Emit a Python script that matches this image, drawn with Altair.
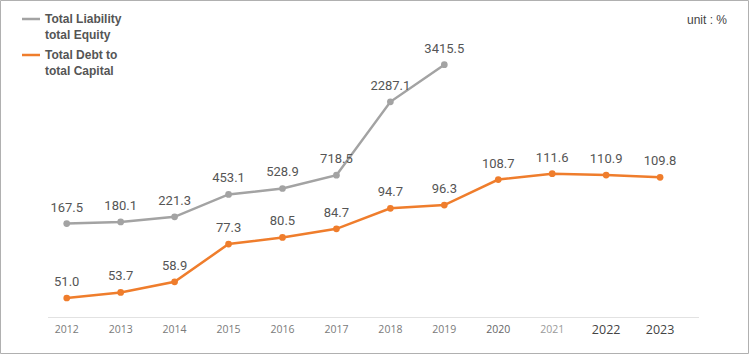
import altair as alt
import pandas as pd

# ---- data ----
years = [2012, 2013, 2014, 2015, 2016, 2017, 2018, 2019, 2020, 2021, 2022, 2023]
liability_years = [2012, 2013, 2014, 2015, 2016, 2017, 2018, 2019]
liability_equity = [167.5, 180.1, 221.3, 453.1, 528.9, 718.5, 2287.1, 3415.5]
debt_capital = [51.0, 53.7, 58.9, 77.3, 80.5, 84.7, 94.7, 96.3, 108.7, 111.6, 110.9, 109.8]
series_names = ["Total Liability", "total Equity", "Total Debt to", "total Capital"]
unit_label = "unit : %"

GRAY = "#a3a3a3"
ORANGE = "#ef7d2c"
W, H = 750, 354

gray_df = pd.DataFrame({"year": liability_years, "value": liability_equity})
orange_df = pd.DataFrame({"year": years, "value": debt_capital})
year_df = pd.DataFrame({"year": years})
one = pd.DataFrame({"a": [0]})

xscale = alt.Scale(domain=[2010.763, 2024.667], nice=False, zero=False)
x = alt.X("year:Q", scale=xscale, axis=None)

gy = alt.Y("value:Q", scale=alt.Scale(type="pow", exponent=0.5, domain=[-595.4, 5925.6],
                                      nice=False, zero=False), axis=None)
oy = alt.Y("value:Q", scale=alt.Scale(domain=[23.72, 196.2], nice=False, zero=False), axis=None)

gbase = alt.Chart(gray_df).encode(x=x, y=gy)
gray = alt.layer(
    gbase.mark_line(color=GRAY, strokeWidth=2.5),
    gbase.mark_point(filled=True, color=GRAY, size=45, opacity=1),
    gbase.mark_text(dy=-16, font="Roboto", fontSize=13, color="#555").encode(
        text=alt.Text("value:Q", format=".1f")),
)

obase = alt.Chart(orange_df).encode(x=x, y=oy)
orange = alt.layer(
    obase.mark_line(color=ORANGE, strokeWidth=2.5),
    obase.mark_point(filled=True, color=ORANGE, size=45, opacity=1),
    obase.mark_text(dy=-16, font="Roboto", fontSize=13, color="#555").encode(
        text=alt.Text("value:Q", format=".1f")),
)

label_color = (alt.when(alt.datum.year >= 2022).then(alt.value("#444"))
               .when(alt.datum.year == 2021).then(alt.value("#9a9a9a"))
               .when(alt.datum.year == 2020).then(alt.value("#666"))
               .otherwise(alt.value("#7a7a7a")))
label_size = alt.when(alt.datum.year >= 2022).then(alt.value(12.5)).otherwise(alt.value(10.5))

year_labels = alt.Chart(year_df).mark_text(font="Open Sans", baseline="middle").encode(
    x=x, y=alt.value(330), text=alt.Text("year:Q", format="d"),
    color=label_color, size=label_size)

baseline = alt.Chart(one).mark_rule(color="#e2e2e2", strokeWidth=1).encode(
    x=alt.value(48), x2=alt.value(699), y=alt.value(317.5))

frame = alt.Chart(one).mark_rect(fill=None, stroke="#b0b0b0", strokeWidth=1).encode(
    x=alt.value(0.5), x2=alt.value(748.5), y=alt.value(0.5), y2=alt.value(353.5))

legend_gray = alt.Chart(one).mark_rule(color=GRAY, strokeWidth=2.5).encode(
    x=alt.value(22), x2=alt.value(40), y=alt.value(19))
legend_orange = alt.Chart(one).mark_rule(color=ORANGE, strokeWidth=2.5).encode(
    x=alt.value(22), x2=alt.value(40), y=alt.value(55))

legend_texts = []
for name, yy in zip(series_names, [19, 35, 55, 71]):
    legend_texts.append(
        alt.Chart(one).mark_text(align="left", baseline="middle", font="Liberation Sans",
                                 fontWeight="bold", fontSize=12, color="#555").encode(
            x=alt.value(45), y=alt.value(yy), text=alt.value(name)))

unit = alt.Chart(one).mark_text(align="right", baseline="middle", font="Liberation Sans",
                                fontSize=12, color="#444").encode(
    x=alt.value(727), y=alt.value(20), text=alt.value(unit_label))

chart = alt.layer(
    frame, baseline, year_labels, gray, orange, legend_gray, legend_orange, *legend_texts, unit
).resolve_scale(y="independent").properties(
    width=W, height=H, autosize=alt.AutoSizeParams(type="none"), padding=0,
    background="white"
).configure_view(stroke=None)

chart.save("out.html", embed_options={"renderer": "svg", "actions": False})
